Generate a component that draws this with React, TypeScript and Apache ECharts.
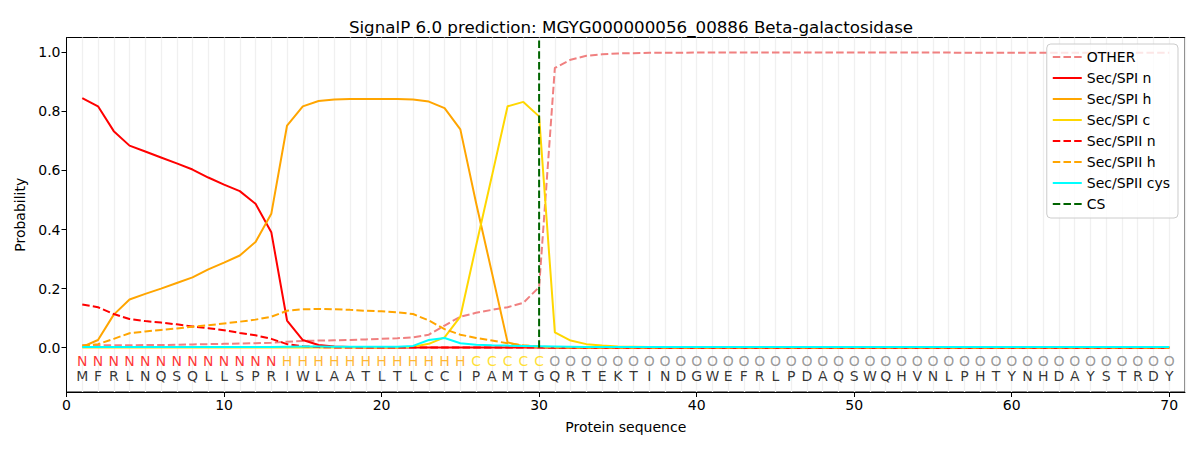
import React, { useEffect, useRef } from "react";
import * as echarts from "echarts";

const TITLE = "SignalP 6.0 prediction: MGYG000000056_00886 Beta-galactosidase";
const SEQUENCE = "MFRLNQSQLLSPRIWLAATLTLCCIPAMTGQRTEKTINDGWEFRLPDAQSWQHVNLPHTYNHDAYSTRDY".split("");
const REGIONS = "NNNNNNNNNNNNNHHHHHHHHHHHHCCCCCOOOOOOOOOOOOOOOOOOOOOOOOOOOOOOOOOOOOOOOO".split("");
const CS_POS = 30;

const OTHER = [
  0.008, 0.008, 0.008, 0.008, 0.009, 0.009, 0.010, 0.011, 0.012, 0.013,
  0.014, 0.015, 0.017, 0.020, 0.023, 0.024, 0.025, 0.026, 0.028, 0.030,
  0.032, 0.035, 0.044, 0.075, 0.105, 0.118, 0.128, 0.137, 0.152, 0.205,
  0.947, 0.975, 0.988, 0.993, 0.996, 0.997, 0.998, 0.998, 0.998, 0.999,
  0.999, 0.999, 0.999, 0.999, 0.999, 0.999, 0.999, 0.999, 0.999, 0.999,
  0.999, 0.999, 0.999, 0.999, 0.999, 0.999, 0.998, 0.998, 0.998, 0.998,
  0.998, 0.998, 0.998, 0.998, 0.998, 0.998, 0.998, 0.998, 0.998, 0.998,
];
const SPI_N = [
  0.845, 0.817, 0.733, 0.684, 0.664, 0.644, 0.624, 0.603, 0.576, 0.552,
  0.530, 0.487, 0.391, 0.092, 0.026, 0.009, 0.004, 0.002, 0.001, 0.001,
  0.001, 0.001, 0.001, 0.001, 0.001, 0.001, 0.001, 0.001, 0.001, 0.001,
  0, 0, 0, 0, 0, 0, 0, 0, 0, 0,
  0, 0, 0, 0, 0, 0, 0, 0, 0, 0,
  0, 0, 0, 0, 0, 0, 0, 0, 0, 0,
  0, 0, 0, 0, 0, 0, 0, 0, 0, 0,
];
const SPI_H = [
  0.003, 0.026, 0.112, 0.163, 0.182, 0.200, 0.219, 0.238, 0.265, 0.288,
  0.312, 0.358, 0.453, 0.752, 0.817, 0.835, 0.840, 0.842, 0.842, 0.842,
  0.842, 0.840, 0.833, 0.811, 0.739, 0.490, 0.255, 0.018, 0.005, 0.002,
  0.001, 0.001, 0.001, 0.001, 0.001, 0.001, 0.001, 0.001, 0.001, 0.001,
  0.001, 0.001, 0.001, 0.001, 0.001, 0.001, 0.001, 0.001, 0.001, 0.001,
  0.001, 0.001, 0.001, 0.001, 0.001, 0.001, 0.001, 0.001, 0.001, 0.001,
  0.001, 0.001, 0.001, 0.001, 0.001, 0.001, 0.001, 0.001, 0.001, 0.001,
];
const SPI_C = [
  0.001, 0.001, 0.001, 0.001, 0.001, 0.001, 0.001, 0.001, 0.001, 0.001,
  0.001, 0.001, 0.001, 0.001, 0.001, 0.001, 0.001, 0.001, 0.001, 0.001,
  0.001, 0.003, 0.013, 0.035, 0.105, 0.345, 0.580, 0.817, 0.832, 0.783,
  0.052, 0.024, 0.012, 0.007, 0.004, 0.003, 0.002, 0.002, 0.002, 0.002,
  0.002, 0.002, 0.002, 0.002, 0.002, 0.002, 0.002, 0.002, 0.002, 0.002,
  0.002, 0.002, 0.002, 0.002, 0.002, 0.002, 0.002, 0.002, 0.002, 0.002,
  0.002, 0.002, 0.002, 0.002, 0.002, 0.002, 0.002, 0.002, 0.002, 0.002,
];
const SPII_N = [
  0.146, 0.137, 0.114, 0.097, 0.090, 0.085, 0.079, 0.072, 0.066, 0.059,
  0.050, 0.042, 0.030, 0.012, 0.005, 0.002, 0.001, 0.001, 0.001, 0.001,
  0.001, 0.001, 0.001, 0.001, 0.001, 0.001, 0.001, 0.001, 0.001, 0.001,
  0, 0, 0, 0, 0, 0, 0, 0, 0, 0,
  0, 0, 0, 0, 0, 0, 0, 0, 0, 0,
  0, 0, 0, 0, 0, 0, 0, 0, 0, 0,
  0, 0, 0, 0, 0, 0, 0, 0, 0, 0,
];
const SPII_H = [
  0.007, 0.012, 0.030, 0.049, 0.055, 0.060, 0.065, 0.071, 0.076, 0.082,
  0.088, 0.095, 0.105, 0.125, 0.130, 0.131, 0.130, 0.128, 0.125, 0.123,
  0.120, 0.114, 0.092, 0.063, 0.044, 0.033, 0.024, 0.015, 0.008, 0.004,
  0.002, 0.001, 0.001, 0.001, 0.001, 0.001, 0.001, 0.001, 0.001, 0.001,
  0.001, 0.001, 0.001, 0.001, 0.001, 0.001, 0.001, 0.001, 0.001, 0.001,
  0.001, 0.001, 0.001, 0.001, 0.001, 0.001, 0.001, 0.001, 0.001, 0.001,
  0.001, 0.001, 0.001, 0.001, 0.001, 0.001, 0.001, 0.001, 0.001, 0.001,
];
const SPII_CYS = [
  0.002, 0.002, 0.002, 0.002, 0.002, 0.002, 0.002, 0.002, 0.002, 0.002,
  0.002, 0.002, 0.002, 0.003, 0.004, 0.004, 0.003, 0.003, 0.003, 0.003,
  0.003, 0.006, 0.026, 0.033, 0.015, 0.010, 0.008, 0.007, 0.006, 0.005,
  0.004, 0.003, 0.002, 0.002, 0.002, 0.002, 0.002, 0.002, 0.002, 0.002,
  0.002, 0.002, 0.002, 0.002, 0.002, 0.002, 0.002, 0.002, 0.002, 0.002,
  0.002, 0.002, 0.002, 0.002, 0.002, 0.002, 0.002, 0.002, 0.002, 0.002,
  0.002, 0.002, 0.002, 0.002, 0.002, 0.002, 0.002, 0.002, 0.002, 0.002,
];
const Y_TICKS = [0, 0.2, 0.4, 0.6, 0.8, 1.0];
const LEGEND_NAMES = ["OTHER", "Sec/SPI n", "Sec/SPI h", "Sec/SPI c", "Sec/SPII n", "Sec/SPII h", "Sec/SPII cys", "CS"];
const REGION_COLORS: Record<string, string> = { N: "#ff0000", H: "#ffa500", C: "#ffd700", O: "#808080" };

const FONT = "DejaVu Sans";
const DASH = [7.5, 3.2];

function lineSeries(name: string, values: number[], color: string, dashed: boolean) {
  return {
    name,
    type: "line",
    xAxisIndex: 0,
    yAxisIndex: 0,
    symbol: "none",
    showSymbol: false,
    silent: true,
    data: values.map((v, i) => [i + 1, v]),
    lineStyle: { color, width: 2, type: dashed ? DASH : "solid" },
    itemStyle: { color },
  };
}

export default function App() {
  const ref = useRef<HTMLDivElement>(null);
  useEffect(() => {
    document.body.style.margin = "0";
    if (!ref.current) return;
    const chart = echarts.init(ref.current, undefined, { renderer: "svg" });
    const regionRow = REGIONS.map((r, i) => ({
      value: [i + 1, -0.046],
      label: { formatter: r, color: REGION_COLORS[r] },
    }));
    const seqRow = SEQUENCE.map((a, i) => ({
      value: [i + 1, -0.097],
      label: { formatter: a, color: "#000" },
    }));
    const letterSeries = (name: string, data: any[]) => ({
      name,
      type: "scatter",
      xAxisIndex: 0,
      yAxisIndex: 0,
      symbolSize: 1,
      silent: true,
      itemStyle: { color: "rgba(0,0,0,0)" },
      label: { show: true, position: "inside", fontSize: 14, fontFamily: FONT },
      data,
    });
    chart.setOption({
      animation: false,
      backgroundColor: "#fff",
      textStyle: { fontFamily: FONT },
      title: {
        text: TITLE,
        left: 626,
        textAlign: "center",
        top: 13,
        textStyle: { fontSize: 16.7, fontWeight: "normal", color: "#000", fontFamily: FONT },
      },
      grid: {
        left: 66.5,
        right: 15,
        top: 37.5,
        bottom: 58,
        show: true,
        borderColor: "#000",
        borderWidth: 1,
        backgroundColor: "transparent",
      },
      legend: {
        orient: "vertical",
        right: 22,
        top: 44,
        itemWidth: 29,
        itemHeight: 14,
        itemGap: 7,
        padding: [6, 8, 7, 5],
        borderColor: "#cccccc",
        borderWidth: 1,
        borderRadius: 4,
        backgroundColor: "rgba(255,255,255,0.8)",
        textStyle: { fontSize: 14, color: "#000", fontFamily: FONT },
        itemStyle: { opacity: 0 },
        data: LEGEND_NAMES,
      },
      xAxis: [
        {
          type: "value",
          min: 0,
          max: 71,
          interval: 10,
          name: "Protein sequence",
          nameLocation: "middle",
          nameGap: 28,
          nameTextStyle: { fontSize: 14, color: "#000", fontFamily: FONT },
          axisLine: { show: true, onZero: false, lineStyle: { color: "#000", width: 1 } },
          axisTick: { show: true, length: 5, lineStyle: { color: "#000" } },
          axisLabel: { fontSize: 14, color: "#000", margin: 6, fontFamily: FONT, showMaxLabel: false },
          splitLine: { show: false },
        },
        {
          type: "value",
          min: 0,
          max: 71,
          interval: 1,
          position: "bottom",
          axisLine: { show: false },
          axisTick: { show: false },
          axisLabel: { show: false },
          splitLine: { show: true, lineStyle: { color: "#f0f0f0", width: 1.3 } },
        },
      ],
      yAxis: {
        type: "value",
        min: -0.15,
        max: 1.05,
        name: "Probability",
        nameLocation: "middle",
        nameGap: 38,
        nameTextStyle: { fontSize: 14, color: "#000", fontFamily: FONT },
        axisLine: { show: true, onZero: false, lineStyle: { color: "#000", width: 1 } },
        axisTick: { show: true, length: 5, customValues: Y_TICKS, lineStyle: { color: "#000" } },
        axisLabel: {
          fontSize: 14,
          color: "#000",
          margin: 6,
          fontFamily: FONT,
          customValues: Y_TICKS,
          formatter: (v: number) => v.toFixed(1),
        },
        splitLine: { show: false },
      },
      series: [
        lineSeries("OTHER", OTHER, "#f08080", true),
        lineSeries("Sec/SPI n", SPI_N, "#ff0000", false),
        lineSeries("Sec/SPI h", SPI_H, "#ffa500", false),
        lineSeries("Sec/SPI c", SPI_C, "#ffd700", false),
        lineSeries("Sec/SPII n", SPII_N, "#ff0000", true),
        lineSeries("Sec/SPII h", SPII_H, "#ffa500", true),
        lineSeries("Sec/SPII cys", SPII_CYS, "#00ffff", false),
        {
          name: "CS",
          type: "line",
          symbol: "none",
          silent: true,
          data: [
            [CS_POS, 0],
            [CS_POS, 1.04],
          ],
          lineStyle: { color: "#006400", width: 2, type: DASH },
          itemStyle: { color: "#006400" },
        },
        letterSeries("regions", regionRow),
        letterSeries("sequence", seqRow),
      ],
    });
    return () => chart.dispose();
  }, []);
  return <div ref={ref} style={{ width: 1200, height: 450 }} />;
}
